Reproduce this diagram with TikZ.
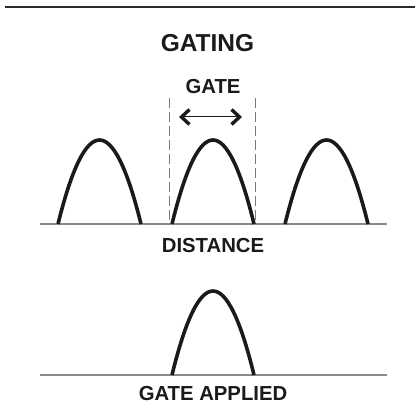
\documentclass[tikz,border=0pt]{standalone}
\usepackage{fontspec}
\setmainfont{Liberation Sans}
\usetikzlibrary{arrows.meta,positioning,calc}
\definecolor{Ink}{HTML}{1A1A1A}
\definecolor{Rule}{HTML}{2B2B2B}
\definecolor{Axis}{HTML}{8A8A8A}
\definecolor{Guide}{HTML}{7A7A7A}
\newcommand{\hump}[3]{% left x, right x, baseline y
  \draw[peak] (#1,#3) .. controls ($(#1,#3)+({(#2-#1)/3},-112)$) and ($(#2,#3)+({-(#2-#1)/3},-112)$) .. (#2,#3);}
\tikzset{title/.style={font=\bfseries\fontsize{24.5}{28}\selectfont,text=Ink,inner sep=0pt},
  tag/.style={font=\bfseries\fontsize{20.3}{24}\selectfont,text=Ink,inner sep=0pt},
  peak/.style={line width=3.6pt,draw=Ink,line cap=butt},
  axis/.style={line width=1.6pt,draw=Axis},
  guide/.style={line width=0.9pt,draw=Guide,dash pattern=on 10pt off 4pt},
  barb/.tip={Straight Barb[length=8pt,width=15pt,line width=3.4pt]},
  span/.style={barb-barb,line width=1pt,draw=Ink},
  topline/.style={line width=2pt,draw=Rule}}

\begin{document}
\begin{tikzpicture}[x=1pt,y=-1pt]
  \useasboundingbox (0,0) rectangle (415,419);
  % header rule
  \coordinate (rl) at (5,7);
  \coordinate (rr) at (415,7);
  \draw[topline] (rl)--(rr);
  \node[title] (gating) at (207.5,43) {GATING};
  % upper trace
  \coordinate (al) at (40,224);
  \coordinate (ar) at (387,224);
  \draw[axis] (al)--(ar);
  \hump{58}{141}{224}
  \hump{172}{254}{224}
  \hump{285}{368}{224}
  % gate window
  \coordinate (gl) at (169.5,98);
  \coordinate (gr) at (255,98);
  \coordinate (gl0) at (169.5,224);
  \coordinate (gr0) at (255,224);
  \draw[guide] (gl)--(gl0);
  \draw[guide] (gr)--(gr0);
  \node[tag] (gate) at (213,87) {GATE};
  \coordinate (sl) at (179,117);
  \coordinate (sr) at (242,117);
  \draw[span] (sl)--(sr);
  \node[tag] (dist) at (213,246) {DISTANCE};
  % lower trace
  \coordinate (bl) at (40,375);
  \coordinate (br) at (387,375);
  \draw[axis] (bl)--(br);
  \hump{172}{254}{375}
  \node[tag] (applied) at (213,394) {GATE APPLIED};
\end{tikzpicture}
\end{document}
